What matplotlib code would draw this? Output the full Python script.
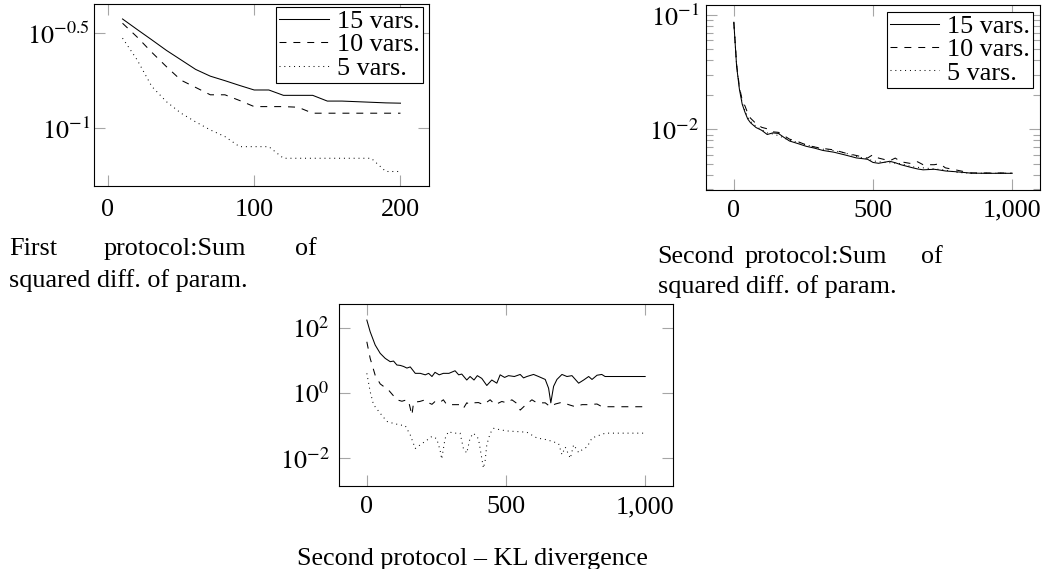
import numpy as np
import matplotlib as mpl
import matplotlib.pyplot as plt
from matplotlib.ticker import FixedLocator, FuncFormatter, LogLocator, NullFormatter, NullLocator

plt.rcParams['font.family'] = 'serif'
plt.rcParams['font.serif'] = ['Liberation Serif', 'DejaVu Serif']
plt.rcParams['mathtext.fontset'] = 'stix'
plt.rcParams['font.size'] = 18.8
mpl.rcParams['lines.scale_dashes'] = False

# first protocol, sum of squared diff. of param.
x1 = [10, 20, 30, 40, 50, 60, 70, 80, 90, 100, 110, 120, 130, 140, 150, 160, 170, 180, 190, 200]
p1_15 = [0.376, 0.331, 0.292, 0.257, 0.229, 0.204, 0.188, 0.178, 0.168, 0.159,
         0.159, 0.149, 0.149, 0.149, 0.139, 0.139, 0.138, 0.137, 0.136, 0.1355]
p1_10 = [0.357, 0.302, 0.251, 0.211, 0.179, 0.164, 0.150, 0.150, 0.140, 0.130,
         0.130, 0.130, 0.129, 0.120, 0.120, 0.120, 0.120, 0.120, 0.120, 0.120]
p1_5 = [0.298, 0.229, 0.166, 0.138, 0.120, 0.108, 0.098, 0.0904, 0.080, 0.080,
        0.080, 0.0695, 0.0695, 0.0695, 0.0695, 0.0695, 0.0695, 0.0695, 0.0592, 0.0592]

# second protocol, sum of squared diff. of param.
x2 = [0, 10, 20, 30, 40, 50, 60, 80, 100, 120, 140, 160, 180, 200, 230, 260, 290, 320,
      360, 400, 440, 480, 500, 520, 560, 580, 600, 640, 660, 680, 720, 740, 760, 800, 850, 900, 1000]
p2_15 = [0.0863, 0.0355, 0.0224, 0.0166, 0.0141, 0.0123, 0.0114, 0.01035, 0.0098, 0.0090,
         0.0093, 0.0092, 0.0085, 0.0079, 0.0075, 0.0071, 0.00684, 0.00653, 0.0063, 0.00596,
         0.00562, 0.00547, 0.00513, 0.00504, 0.00525, 0.0051, 0.0049, 0.00462, 0.0045, 0.00442,
         0.00447, 0.0044, 0.00432, 0.00425, 0.00414, 0.00412, 0.00412]
p2_10 = [0.086, 0.037, 0.0235, 0.0180, 0.0160, 0.0138, 0.0125, 0.0112, 0.0104, 0.0101,
         0.0095, 0.0094, 0.0088, 0.0082, 0.0078, 0.0073, 0.0070, 0.0068, 0.0066, 0.0062,
         0.0059, 0.0056, 0.0060, 0.0056, 0.0053, 0.0056, 0.0052, 0.0050, 0.0052, 0.0049,
         0.0049, 0.0050, 0.0046, 0.0044, 0.00415, 0.00415, 0.00415]
p2_5 = [0.086, 0.036, 0.023, 0.017, 0.0145, 0.0128, 0.0117, 0.0106, 0.0099, 0.0093,
        0.0091, 0.0088, 0.0084, 0.0080, 0.0077, 0.0073, 0.0070, 0.0067, 0.0065, 0.0062,
        0.0058, 0.0055, 0.0053, 0.0052, 0.0051, 0.00505, 0.0050, 0.0047, 0.00465, 0.0046,
        0.0045, 0.00445, 0.0044, 0.0042, 0.00413, 0.00413, 0.00413]

# second protocol, KL divergence
x3_15 = [0, 12, 30, 48, 66, 84, 96, 108, 120, 132, 144, 156, 174, 192, 210, 222, 234, 245,
         260, 275, 295, 317, 330, 341, 359, 371, 385, 397, 413, 431, 449, 467, 479, 495, 509,
         530, 551, 563, 575, 599, 617, 641, 653, 661, 671, 683, 701, 719, 737, 761, 779, 797,
         809, 827, 844, 856, 1000]
p3_15 = [171, 75, 29.5, 16.4, 11.5, 9.1, 9.5, 7.2, 7.0, 6.5, 5.8, 6.3, 4.0, 4.0, 3.6, 4.0, 3.2,
         4.3, 3.6, 4.0, 4.0, 4.8, 3.6, 3.8, 2.5, 3.2, 2.5, 3.4, 2.8, 1.7, 2.5, 2.0, 3.6, 3.0, 3.4,
         3.2, 3.7, 2.9, 3.2, 3.7, 3.2, 2.6, 1.4, 0.5, 1.6, 2.6, 3.7, 3.2, 3.4, 2.0, 2.5, 3.2,
         2.6, 3.5, 3.7, 3.2, 3.2]
x3_10 = [0, 12, 30, 48, 78, 108, 126, 144, 150, 162, 168, 190, 210, 222, 234, 245, 260, 275,
         287, 311, 335, 347, 359, 371, 383, 401, 419, 443, 461, 485, 503, 521, 539, 551, 569,
         593, 611, 641, 659, 677, 701, 725, 749, 773, 791, 827, 845, 874, 1000]
p3_10 = [37, 11.5, 3.5, 1.9, 1.23, 0.62, 0.56, 0.62, 0.56, 0.21, 0.52, 0.55, 0.62, 0.5, 0.45,
         0.55, 0.5, 0.62, 0.44, 0.44, 0.44, 0.34, 0.5, 0.45, 0.5, 0.51, 0.44, 0.62, 0.44, 0.55,
         0.5, 0.62, 0.48, 0.3, 0.42, 0.62, 0.5, 0.5, 0.38, 0.46, 0.52, 0.44, 0.38, 0.44, 0.44,
         0.46, 0.38, 0.38, 0.38]
x3_5 = [0, 12, 24, 48, 72, 96, 120, 138, 156, 174, 192, 216, 234, 251, 263, 269, 281, 293,
        311, 335, 347, 359, 371, 383, 401, 413, 419, 425, 431, 443, 455, 479, 503, 539, 575,
        611, 647, 671, 689, 701, 713, 731, 743, 761, 779, 791, 809, 833, 857, 1000]
p3_5 = [4.0, 1.1, 0.44, 0.24, 0.135, 0.117, 0.105, 0.10, 0.052, 0.020, 0.026, 0.036, 0.047,
        0.040, 0.018, 0.0095, 0.040, 0.066, 0.059, 0.059, 0.020, 0.0145, 0.042, 0.059, 0.040,
        0.010, 0.005, 0.0085, 0.026, 0.058, 0.083, 0.075, 0.069, 0.066, 0.063, 0.042, 0.037,
        0.032, 0.028, 0.013, 0.022, 0.010, 0.026, 0.015, 0.020, 0.022, 0.042, 0.050, 0.059, 0.059]

labels = ['15 vars.', '10 vars.', '5 vars.']
styles = [dict(linestyle='-'), dict(dashes=(5, 5)), dict(dashes=(0.7, 2.8))]

W, H = 1051.0, 569.0


def px_axes(l, t, r, b):
    return [l / W, 1 - b / H, (r - l) / W, (b - t) / H]


def style_axes(ax, xpad, ypad):
    for s in ax.spines.values():
        s.set_linewidth(0.8)
        s.set_color('black')
    ax.tick_params(which='both', direction='in', top=True, right=True, color='#a6a6a6', width=0.8)
    ax.tick_params(which='major', length=8)
    ax.tick_params(which='minor', length=4.8)
    ax.tick_params(axis='x', pad=xpad)
    ax.tick_params(axis='y', pad=ypad)
    ax.xaxis.set_major_formatter(FuncFormatter(lambda v, p: '{:,}'.format(int(round(v)))))


def pow_label(v, p):
    e = np.log10(v)
    if abs(e - round(e)) < 1e-6:
        return r'$10^{%d}$' % int(round(e))
    return r'$10^{%g}$' % e


def add_legend(ax, anchor):
    leg = ax.legend(loc='upper right', bbox_to_anchor=anchor, fancybox=False, framealpha=1,
                    edgecolor='black', borderpad=0.12, handlelength=1.9, handletextpad=0.3,
                    labelspacing=0.0, borderaxespad=0)
    leg.get_frame().set_linewidth(0.8)


fig = plt.figure()
fig.set_size_inches(10.51, 5.69, forward=True)

# first protocol
ax = fig.add_axes(px_axes(94, 4, 429, 186))
for y, lab, st in zip([p1_15, p1_10, p1_5], labels, styles):
    ax.plot(x1, y, color='black', lw=0.75, label=lab, **st)
ax.set_yscale('log')
ax.set_xlim(-9.5, 219.5)
ax.set_ylim(10 ** -1.304, 10 ** -0.346)
ax.set_xticks([0, 100, 200])
ax.yaxis.set_major_locator(FixedLocator([10 ** -1, 10 ** -0.5]))
ax.yaxis.set_major_formatter(FuncFormatter(pow_label))
ax.yaxis.set_minor_locator(NullLocator())
style_axes(ax, 9.5, 3)
add_legend(ax, (0.982, 0.985))

# second protocol
ax = fig.add_axes(px_axes(706, 5, 1040, 190))
for y, lab, st in zip([p2_15, p2_10, p2_5], labels, styles):
    ax.plot(x2, y, color='black', lw=0.75, label=lab, **st)
ax.set_yscale('log')
ax.set_xlim(-100, 1100)
ax.set_ylim(10 ** -2.531, 10 ** -0.913)
ax.set_xticks([0, 500, 1000])
ax.yaxis.set_major_locator(LogLocator(base=10))
ax.yaxis.set_major_formatter(FuncFormatter(pow_label))
ax.yaxis.set_minor_locator(LogLocator(base=10, subs=np.arange(2, 10)))
ax.yaxis.set_minor_formatter(NullFormatter())
style_axes(ax, 7, 5)
add_legend(ax, (0.98, 0.964))

# second protocol, KL divergence
ax = fig.add_axes(px_axes(339, 304, 673, 486))
for xx, y, st in zip([x3_15, x3_10, x3_5], [p3_15, p3_10, p3_5], styles):
    ax.plot(xx, y, color='black', lw=0.75, **st)
ax.set_yscale('log')
ax.set_xlim(-100, 1100)
ax.set_ylim(10 ** -2.847, 10 ** 2.725)
ax.set_xticks([0, 500, 1000])
ax.yaxis.set_major_locator(FixedLocator([1e-2, 1e0, 1e2]))
ax.yaxis.set_major_formatter(FuncFormatter(pow_label))
ax.yaxis.set_minor_locator(NullLocator())
style_axes(ax, 7.5, 7)

# captions
def cap(x, y, s):
    fig.text(x / W, 1 - y / H, s, ha='left', va='baseline')

cap(9, 255, 'First')
cap(104, 255, 'protocol:Sum')
cap(295, 255, 'of')
cap(9, 286.5, 'squared diff. of param.')
cap(657.5, 263.5, 'Second')
cap(745, 263.5, 'protocol:Sum')
cap(921.5, 263.5, 'of')
cap(657.5, 293.5, 'squared diff. of param.')
cap(297.5, 565, 'Second protocol \u2013 KL divergence')

plt.savefig('out.png', dpi=100)
